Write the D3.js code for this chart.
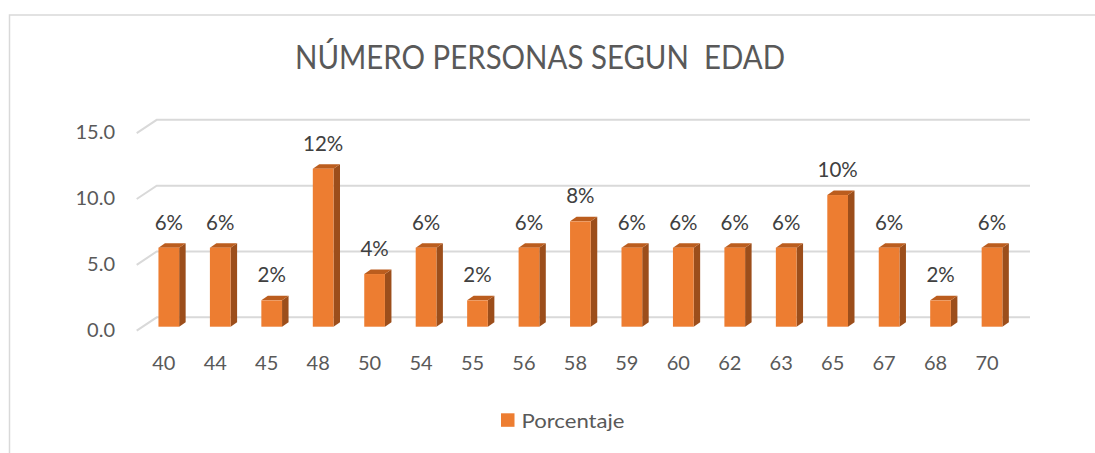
<!DOCTYPE html>
<html>
<head>
<meta charset="utf-8">
<script src="https://cdn.jsdelivr.net/npm/d3@7"></script>
<style>
  body { margin: 0; background: #fff; }
  svg text { font-family: Lato, "Open Sans", sans-serif; }
</style>
</head>
<body>
<div id="vis"></div>
<script>
// datos del grafico
const edades = ["40", "44", "45", "48", "50", "54", "55", "56", "58", "59", "60", "62", "63", "65", "67", "68", "70"];
const porcentaje = [6, 6, 2, 12, 4, 6, 2, 6, 8, 6, 6, 6, 6, 10, 6, 2, 6];
const yTicks = [0, 5, 10, 15];
const titulo = "NÚMERO PERSONAS SEGUN  EDAD";
const serie = "Porcentaje";

const svg = d3.select("#vis")
    .append("svg")
    .attr("width", 1095)
    .attr("height", 453);

// borde del area del grafico
svg.append("rect")
    .attr("x", 9.5)
    .attr("y", 15)
    .attr("width", 1200)
    .attr("height", 600)
    .attr("fill", "#fff")
    .attr("stroke", "#d9d9d9")
    .attr("stroke-width", 1.5);

// escalas (y = cara frontal de las barras)
const y = d3.scaleLinear()
    .domain([0, 15])
    .range([326.7, 129.2]);

const x = d3.scalePoint()
    .domain(edades)
    .range([168.8, 992]);

const barW = 20.7;
const depthX = 6.5, depthY = -4.5;

// rejilla en perspectiva (suelo -> pared del fondo)
const grid = svg.append("g").attr("class", "grid");
grid.selectAll("polyline")
    .data(yTicks)
    .enter()
    .append("polyline")
    .attr("points", d => [
        [136.7, y(d) + 4],
        [156.7, y(d) - 9.4],
        [1030, y(d) - 9.4]
    ].join(" "))
    .attr("fill", "none")
    .attr("stroke", "#d9d9d9")
    .attr("stroke-width", 2);

// etiquetas eje y
svg.append("g")
    .selectAll("text")
    .data(yTicks)
    .enter()
    .append("text")
    .attr("x", 115)
    .attr("y", d => y(d) + 2)
    .attr("text-anchor", "end")
    .attr("dominant-baseline", "central")
    .attr("font-size", 20)
    .attr("fill", "#595959")
    .text(d => d3.format(".1f")(d));

// barras 3D
const bars = svg.append("g").attr("class", "bars")
    .selectAll("g")
    .data(edades.map((e, i) => ({ edad: e, v: porcentaje[i] })))
    .enter()
    .append("g");

// lado
bars.append("path")
    .attr("d", d => {
        const x1 = x(d.edad) + barW / 2;
        return `M${x1},${y(d.v)} L${x1 + depthX},${y(d.v) + depthY} L${x1 + depthX},${y(0) + depthY} L${x1},${y(0)} Z`;
    })
    .attr("fill", "#9c4e1b");

// techo
bars.append("path")
    .attr("d", d => {
        const x0 = x(d.edad) - barW / 2, x1 = x(d.edad) + barW / 2;
        return `M${x0},${y(d.v)} L${x0 + depthX},${y(d.v) + depthY} L${x1 + depthX},${y(d.v) + depthY} L${x1},${y(d.v)} Z`;
    })
    .attr("fill", "#bb5d1e");

// frente
bars.append("rect")
    .attr("x", d => x(d.edad) - barW / 2)
    .attr("y", d => y(d.v))
    .attr("width", barW)
    .attr("height", d => y(0) - y(d.v))
    .attr("fill", "#ed7d31");

// etiquetas de datos
bars.append("text")
    .attr("x", d => x(d.edad))
    .attr("y", d => y(d.v) - 26)
    .attr("text-anchor", "middle")
    .attr("dominant-baseline", "central")
    .attr("font-size", 20.5)
    .attr("fill", "#404040")
    .text(d => d.v + "%");

// etiquetas eje x
svg.append("g")
    .selectAll("text")
    .data(edades)
    .enter()
    .append("text")
    .attr("x", d => x(d) - 5)
    .attr("y", 362)
    .attr("text-anchor", "middle")
    .attr("dominant-baseline", "central")
    .attr("font-size", 20)
    .attr("fill", "#595959")
    .text(d => d);

// titulo
svg.append("text")
    .attr("x", 540)
    .attr("y", 69.3)
    .attr("text-anchor", "middle")
    .attr("font-size", 33)
    .attr("fill", "#595959")
    .attr("textLength", 490)
    .attr("lengthAdjust", "spacingAndGlyphs")
    .style("white-space", "pre")
    .text(titulo);

// leyenda
const legend = svg.append("g");
legend.append("rect")
    .attr("x", 501)
    .attr("y", 413.3)
    .attr("width", 13.5)
    .attr("height", 13.5)
    .attr("fill", "#ed7d31");
legend.append("text")
    .attr("x", 521.5)
    .attr("y", 420)
    .attr("dominant-baseline", "central")
    .attr("font-size", 20)
    .attr("fill", "#595959")
    .attr("textLength", 103)
    .attr("lengthAdjust", "spacingAndGlyphs")
    .text(serie);
</script>
</body>
</html>
